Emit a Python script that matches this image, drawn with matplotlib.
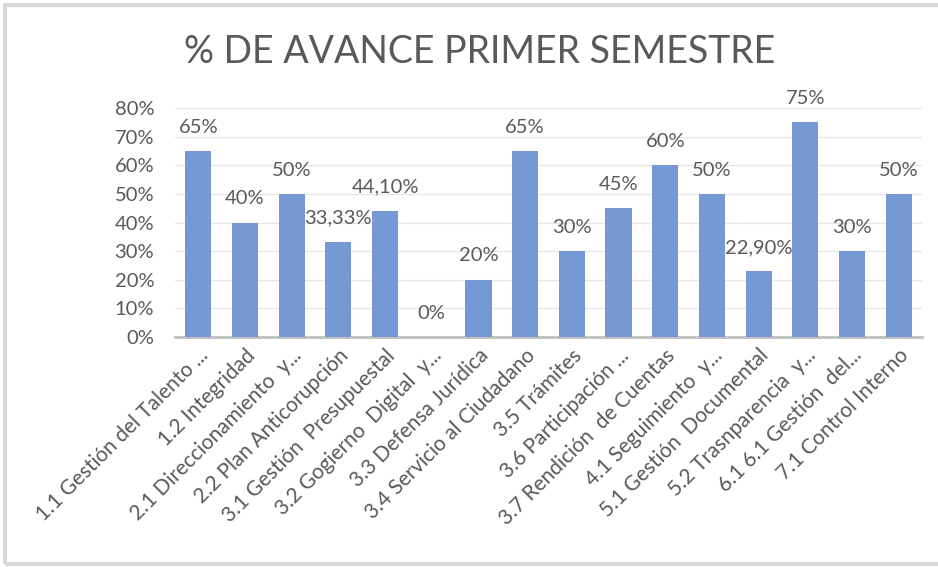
"""
% de avance primer semestre - gráfico de barras estilo Excel
"""

import matplotlib
matplotlib.use("Agg")
import matplotlib.pyplot as plt
from matplotlib.patches import Rectangle
from matplotlib.ticker import FuncFormatter

# Datos
categorias = [
    "1.1 Gestión del Talento ...",
    "1.2 Integridad",
    "2.1 Direccionamiento  y...",
    "2.2 Plan Anticorupción",
    "3.1 Gestión  Presupuestal",
    "3.2 Gogierno  Digital  y...",
    "3.3 Defensa Jurídica",
    "3.4 Servicio al Ciudadano",
    "3.5 Trámites",
    "3.6 Participación ...",
    "3.7 Rendición  de Cuentas",
    "4.1 Seguimiento  y...",
    "5.1 Gestión  Documental",
    "5.2 Trasnparencia  y...",
    "6.1 6.1 Gestión  del...",
    "7.1 Control Interno",
]
avance = [0.65, 0.40, 0.50, 0.3333, 0.441, 0.0, 0.20, 0.65,
          0.30, 0.45, 0.60, 0.50, 0.229, 0.75, 0.30, 0.50]
etiquetas = ["65%", "40%", "50%", "33,33%", "44,10%", "0%", "20%", "65%",
             "30%", "45%", "60%", "50%", "22,90%", "75%", "30%", "50%"]

GRIS = "#595959"
AZUL = "#7698D4"

plt.rcParams['font.family'] = ['Lato', 'DejaVu Sans']

fig = plt.figure(figsize=(9.38, 5.67), dpi=100)
ax = fig.add_axes([175 / 938, 1 - 337 / 567, (922 - 175) / 938, (337 - 108) / 567])

x = range(len(categorias))
ax.bar(x, avance, width=0.56, color=AZUL, zorder=3)

for xi, v, et in zip(x, avance, etiquetas):
    ax.annotate(et, (xi, v), xytext=(0, 11), textcoords="offset points",
                ha="center", va="bottom", fontsize=14.5, color=GRIS)

ax.set_ylim(0, 0.8)
ax.set_xlim(-0.5, len(categorias) - 0.5)
ax.set_yticks([i / 10 for i in range(9)])
ax.yaxis.set_major_formatter(FuncFormatter(lambda v, p: f"{v*100:.0f}%"))
ax.grid(axis="y", color="#E6E6E6", linewidth=1, zorder=0)

ax.set_xticks(list(x))
ax.set_xticklabels(categorias, rotation=45, ha="right", rotation_mode="anchor")
ax.tick_params(axis="y", length=0, labelsize=14.5, colors=GRIS, pad=15)
ax.tick_params(axis="x", length=0, labelsize=15, colors=GRIS, pad=6)

for s in ["top", "right", "left"]:
    ax.spines[s].set_visible(False)
ax.spines["bottom"].set_color("#BFBFBF")
ax.spines["bottom"].set_linewidth(2)

fig.text(480 / 938, 1 - 52 / 567, "% DE AVANCE PRIMER SEMESTRE",
         ha="center", va="center", fontsize=27, color=GRIS)

# Marco del gráfico
fig.patches.append(Rectangle((5 / 938, 3 / 567), 940 / 938, 559 / 567,
                             transform=fig.transFigure, fill=False,
                             edgecolor="#D9D9D9", linewidth=3))

fig.savefig("out.png", dpi=100)
